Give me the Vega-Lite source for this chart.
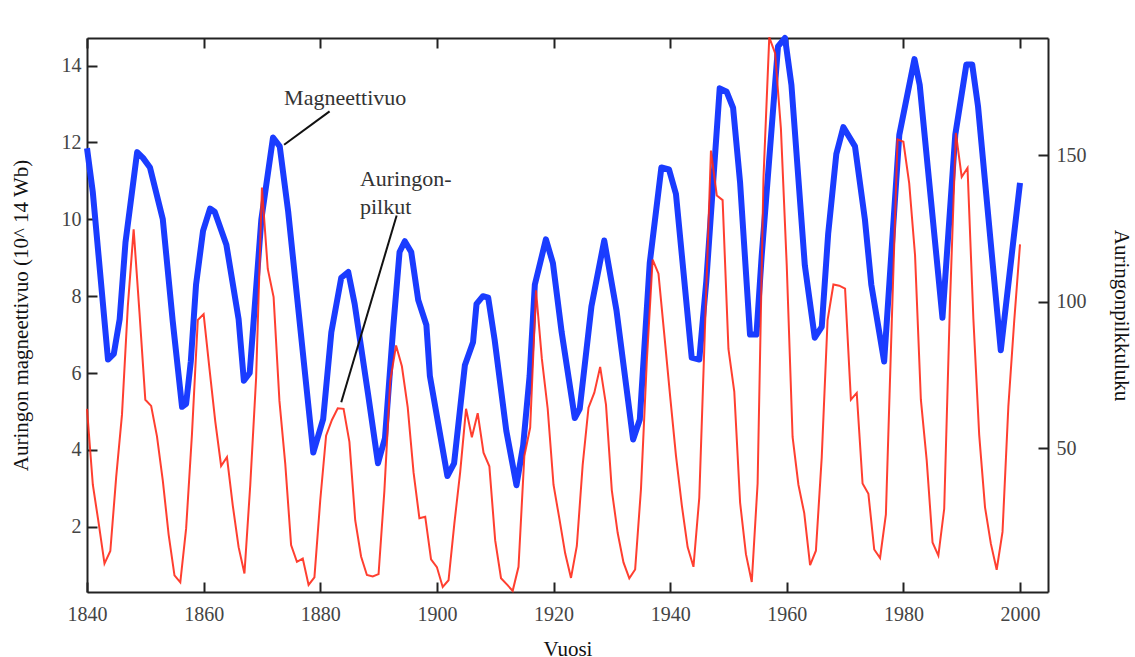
{
  "$schema": "https://vega.github.io/schema/vega-lite/v6.json",
  "width": 961,
  "height": 554,
  "autosize": {"type": "none"},
  "padding": {"left": 87, "top": 38, "right": 87, "bottom": 65},
  "background": "white",
  "config": {
    "view": {"stroke": null},
    "font": "Liberation Serif",
    "axis": {
      "grid": false,
      "labelFlush": false,
      "domainColor": "#222",
      "domainWidth": 2,
      "tickColor": "#222",
      "tickWidth": 2,
      "labelFont": "Liberation Serif",
      "labelFontSize": 20,
      "labelColor": "#444",
      "titleFont": "Liberation Serif",
      "titleFontSize": 21,
      "titleFontWeight": "normal",
      "titleColor": "#111"
    }
  },
  "datasets": {
    "flux": [
      {"year": 1840, "flux": 11.85}, {"year": 1841, "flux": 10.7}, {"year": 1843.6, "flux": 6.35},
      {"year": 1844.6, "flux": 6.5}, {"year": 1845.6, "flux": 7.4}, {"year": 1846.6, "flux": 9.4},
      {"year": 1848.6, "flux": 11.75}, {"year": 1849.6, "flux": 11.6}, {"year": 1850.8, "flux": 11.35},
      {"year": 1853.0, "flux": 10.0}, {"year": 1854.7, "flux": 7.35}, {"year": 1856.3, "flux": 5.12},
      {"year": 1857.0, "flux": 5.2}, {"year": 1857.8, "flux": 6.3}, {"year": 1858.7, "flux": 8.3},
      {"year": 1859.9, "flux": 9.7}, {"year": 1861.1, "flux": 10.28}, {"year": 1861.9, "flux": 10.2},
      {"year": 1863.9, "flux": 9.34}, {"year": 1866.0, "flux": 7.4}, {"year": 1866.9, "flux": 5.8},
      {"year": 1867.9, "flux": 6.0}, {"year": 1869.9, "flux": 10.0}, {"year": 1871.9, "flux": 12.13},
      {"year": 1873.05, "flux": 11.9}, {"year": 1874.5, "flux": 10.2}, {"year": 1878.8, "flux": 3.93},
      {"year": 1880.5, "flux": 4.8}, {"year": 1881.9, "flux": 7.06}, {"year": 1883.6, "flux": 8.48},
      {"year": 1884.8, "flux": 8.63}, {"year": 1885.9, "flux": 7.8}, {"year": 1888.2, "flux": 5.45},
      {"year": 1889.9, "flux": 3.65}, {"year": 1891.1, "flux": 4.31}, {"year": 1892.5, "flux": 7.16},
      {"year": 1893.6, "flux": 9.15}, {"year": 1894.5, "flux": 9.43}, {"year": 1895.6, "flux": 9.15},
      {"year": 1896.8, "flux": 7.9}, {"year": 1898.2, "flux": 7.25}, {"year": 1898.8, "flux": 5.92},
      {"year": 1901.8, "flux": 3.32}, {"year": 1902.95, "flux": 3.65}, {"year": 1904.8, "flux": 6.2},
      {"year": 1906.2, "flux": 6.8}, {"year": 1906.8, "flux": 7.8}, {"year": 1907.9, "flux": 8.0},
      {"year": 1908.8, "flux": 7.96}, {"year": 1909.9, "flux": 6.87}, {"year": 1911.9, "flux": 4.5},
      {"year": 1913.65, "flux": 3.08}, {"year": 1914.8, "flux": 4.12}, {"year": 1915.9, "flux": 5.92},
      {"year": 1916.8, "flux": 8.3}, {"year": 1918.7, "flux": 9.48}, {"year": 1919.9, "flux": 8.86},
      {"year": 1921.4, "flux": 7.06}, {"year": 1923.65, "flux": 4.83}, {"year": 1924.5, "flux": 5.07},
      {"year": 1926.5, "flux": 7.73}, {"year": 1928.7, "flux": 9.45}, {"year": 1930.8, "flux": 7.63},
      {"year": 1933.65, "flux": 4.27}, {"year": 1934.8, "flux": 4.79}, {"year": 1936.5, "flux": 8.86},
      {"year": 1938.5, "flux": 11.35}, {"year": 1939.8, "flux": 11.3}, {"year": 1941.0, "flux": 10.66},
      {"year": 1943.7, "flux": 6.4}, {"year": 1945.0, "flux": 6.35}, {"year": 1946.2, "flux": 8.39},
      {"year": 1948.5, "flux": 13.41}, {"year": 1949.7, "flux": 13.32}, {"year": 1950.8, "flux": 12.9},
      {"year": 1952.0, "flux": 10.95}, {"year": 1953.7, "flux": 7.0}, {"year": 1954.8, "flux": 7.0},
      {"year": 1955.7, "flux": 9.05}, {"year": 1958.5, "flux": 14.5}, {"year": 1959.7, "flux": 14.72},
      {"year": 1960.8, "flux": 13.5}, {"year": 1963.1, "flux": 8.8}, {"year": 1964.8, "flux": 6.92},
      {"year": 1966.0, "flux": 7.2}, {"year": 1967.1, "flux": 9.62}, {"year": 1968.5, "flux": 11.7},
      {"year": 1969.7, "flux": 12.4}, {"year": 1971.7, "flux": 11.9}, {"year": 1973.4, "flux": 10.0},
      {"year": 1974.5, "flux": 8.3}, {"year": 1976.7, "flux": 6.3}, {"year": 1979.3, "flux": 12.2},
      {"year": 1981.9, "flux": 14.17}, {"year": 1982.8, "flux": 13.5}, {"year": 1986.7, "flux": 7.44},
      {"year": 1988.9, "flux": 12.2}, {"year": 1990.8, "flux": 14.03}, {"year": 1991.8, "flux": 14.03},
      {"year": 1992.8, "flux": 12.94}, {"year": 1996.7, "flux": 6.59}, {"year": 2000, "flux": 10.95}
    ],
    "spots": [
      {"year": 1840, "spots": 63.5}, {"year": 1841, "spots": 37.6}, {"year": 1842, "spots": 24.5}, {"year": 1843, "spots": 10.7},
      {"year": 1844, "spots": 15.0}, {"year": 1845, "spots": 40.1}, {"year": 1846, "spots": 61.5}, {"year": 1847, "spots": 98.5},
      {"year": 1848, "spots": 124.7}, {"year": 1849, "spots": 96.3}, {"year": 1850, "spots": 66.6}, {"year": 1851, "spots": 64.5},
      {"year": 1852, "spots": 54.1}, {"year": 1853, "spots": 39.0}, {"year": 1854, "spots": 20.6}, {"year": 1855, "spots": 6.7},
      {"year": 1856, "spots": 4.3}, {"year": 1857, "spots": 22.7}, {"year": 1858, "spots": 54.8}, {"year": 1859, "spots": 93.8},
      {"year": 1860, "spots": 95.8}, {"year": 1861, "spots": 77.2}, {"year": 1862, "spots": 59.1}, {"year": 1863, "spots": 44.0},
      {"year": 1864, "spots": 47.0}, {"year": 1865, "spots": 30.5}, {"year": 1866, "spots": 16.3}, {"year": 1867, "spots": 7.3},
      {"year": 1868, "spots": 37.6}, {"year": 1869, "spots": 74.0}, {"year": 1870, "spots": 139.0}, {"year": 1871, "spots": 111.2},
      {"year": 1872, "spots": 101.6}, {"year": 1873, "spots": 66.2}, {"year": 1874, "spots": 44.7}, {"year": 1875, "spots": 17.0},
      {"year": 1876, "spots": 11.3}, {"year": 1877, "spots": 12.4}, {"year": 1878, "spots": 3.4}, {"year": 1879, "spots": 6.0},
      {"year": 1880, "spots": 32.3}, {"year": 1881, "spots": 54.3}, {"year": 1882, "spots": 59.7}, {"year": 1883, "spots": 63.7},
      {"year": 1884, "spots": 63.5}, {"year": 1885, "spots": 52.2}, {"year": 1886, "spots": 25.4}, {"year": 1887, "spots": 13.1},
      {"year": 1888, "spots": 6.8}, {"year": 1889, "spots": 6.3}, {"year": 1890, "spots": 7.1}, {"year": 1891, "spots": 35.6},
      {"year": 1892, "spots": 73.0}, {"year": 1893, "spots": 85.1}, {"year": 1894, "spots": 78.0}, {"year": 1895, "spots": 64.0},
      {"year": 1896, "spots": 41.8}, {"year": 1897, "spots": 26.2}, {"year": 1898, "spots": 26.7}, {"year": 1899, "spots": 12.1},
      {"year": 1900, "spots": 9.5}, {"year": 1901, "spots": 2.7}, {"year": 1902, "spots": 5.0}, {"year": 1903, "spots": 24.4},
      {"year": 1904, "spots": 42.0}, {"year": 1905, "spots": 63.5}, {"year": 1906, "spots": 53.8}, {"year": 1907, "spots": 62.0},
      {"year": 1908, "spots": 48.5}, {"year": 1909, "spots": 43.9}, {"year": 1910, "spots": 18.6}, {"year": 1911, "spots": 5.7},
      {"year": 1912, "spots": 3.6}, {"year": 1913, "spots": 1.4}, {"year": 1914, "spots": 9.6}, {"year": 1915, "spots": 47.4},
      {"year": 1916, "spots": 57.1}, {"year": 1917, "spots": 103.9}, {"year": 1918, "spots": 80.6}, {"year": 1919, "spots": 63.6},
      {"year": 1920, "spots": 37.6}, {"year": 1921, "spots": 26.1}, {"year": 1922, "spots": 14.2}, {"year": 1923, "spots": 5.8},
      {"year": 1924, "spots": 16.7}, {"year": 1925, "spots": 44.3}, {"year": 1926, "spots": 63.9}, {"year": 1927, "spots": 69.0},
      {"year": 1928, "spots": 77.8}, {"year": 1929, "spots": 64.9}, {"year": 1930, "spots": 35.7}, {"year": 1931, "spots": 21.2},
      {"year": 1932, "spots": 11.1}, {"year": 1933, "spots": 5.7}, {"year": 1934, "spots": 8.7}, {"year": 1935, "spots": 36.1},
      {"year": 1936, "spots": 79.7}, {"year": 1937, "spots": 114.4}, {"year": 1938, "spots": 109.6}, {"year": 1939, "spots": 88.8},
      {"year": 1940, "spots": 67.8}, {"year": 1941, "spots": 47.5}, {"year": 1942, "spots": 30.6}, {"year": 1943, "spots": 16.3},
      {"year": 1944, "spots": 9.6}, {"year": 1945, "spots": 33.2}, {"year": 1946, "spots": 92.6}, {"year": 1947, "spots": 151.6},
      {"year": 1948, "spots": 136.3}, {"year": 1949, "spots": 134.7}, {"year": 1950, "spots": 83.9}, {"year": 1951, "spots": 69.4},
      {"year": 1952, "spots": 31.5}, {"year": 1953, "spots": 13.9}, {"year": 1954, "spots": 4.4}, {"year": 1955, "spots": 38.0},
      {"year": 1956, "spots": 141.7}, {"year": 1957, "spots": 190.2}, {"year": 1958, "spots": 184.8}, {"year": 1959, "spots": 159.0},
      {"year": 1960, "spots": 112.3}, {"year": 1961, "spots": 53.9}, {"year": 1962, "spots": 37.6}, {"year": 1963, "spots": 27.9},
      {"year": 1964, "spots": 10.2}, {"year": 1965, "spots": 15.1}, {"year": 1966, "spots": 47.0}, {"year": 1967, "spots": 93.8},
      {"year": 1968, "spots": 105.9}, {"year": 1969, "spots": 105.5}, {"year": 1970, "spots": 104.5}, {"year": 1971, "spots": 66.6},
      {"year": 1972, "spots": 68.9}, {"year": 1973, "spots": 38.0}, {"year": 1974, "spots": 34.5}, {"year": 1975, "spots": 15.5},
      {"year": 1976, "spots": 12.6}, {"year": 1977, "spots": 27.5}, {"year": 1978, "spots": 92.5}, {"year": 1979, "spots": 155.4},
      {"year": 1980, "spots": 154.6}, {"year": 1981, "spots": 140.4}, {"year": 1982, "spots": 115.9}, {"year": 1983, "spots": 66.6},
      {"year": 1984, "spots": 45.9}, {"year": 1985, "spots": 17.9}, {"year": 1986, "spots": 13.4}, {"year": 1987, "spots": 29.4},
      {"year": 1988, "spots": 100.2}, {"year": 1989, "spots": 157.6}, {"year": 1990, "spots": 142.6}, {"year": 1991, "spots": 145.7},
      {"year": 1992, "spots": 94.3}, {"year": 1993, "spots": 54.6}, {"year": 1994, "spots": 29.9}, {"year": 1995, "spots": 17.5},
      {"year": 1996, "spots": 8.6}, {"year": 1997, "spots": 21.5}, {"year": 1998, "spots": 64.3}, {"year": 1999, "spots": 93.3},
      {"year": 2000, "spots": 119.6}
    ],
    "labels": [
      {"x": 1873.8, "y": 13.17, "label": "Magneettivuo"},
      {"x": 1886.8, "y": 11.06, "label": "Auringon-"},
      {"x": 1886.8, "y": 10.33, "label": "pilkut"}
    ],
    "leaders": [
      {"x1": 1873.8, "x2": 1881.6, "y1": 11.94, "y2": 12.81},
      {"x1": 1893.1, "x2": 1883.6, "y1": 10.10, "y2": 5.24}
    ]
  },
  "layer": [
    {
      "data": {"name": "flux"},
      "mark": {"type": "line", "color": "#1a3cff", "strokeWidth": 6, "strokeJoin": "round", "strokeCap": "butt"},
      "encoding": {
        "x": {
          "field": "year", "type": "quantitative",
          "scale": {"domain": [1840, 2004.8], "nice": false, "zero": false},
          "axis": {
            "orient": "bottom", "values": [1840, 1860, 1880, 1900, 1920, 1940, 1960, 1980, 2000],
            "format": "d", "tickSize": -10, "labelPadding": 22, "title": "Vuosi", "titlePadding": 14
          }
        },
        "y": {
          "field": "flux", "type": "quantitative",
          "scale": {"domain": [0.3, 14.72], "nice": false, "zero": false},
          "axis": {
            "orient": "left", "values": [2, 4, 6, 8, 10, 12, 14],
            "tickSize": -10, "labelPadding": 16, "title": "Auringon magneettivuo (10^ 14 Wb)", "titlePadding": 30
          }
        }
      }
    },
    {
      "data": {"name": "leaders"},
      "mark": {"type": "rule", "color": "#111", "strokeWidth": 2},
      "encoding": {
        "x": {"field": "x1", "type": "quantitative", "scale": {"domain": [1840, 2004.8], "nice": false, "zero": false}, "axis": null},
        "x2": {"field": "x2"},
        "y": {"field": "y1", "type": "quantitative", "scale": {"domain": [0.3, 14.72], "nice": false, "zero": false}, "axis": null},
        "y2": {"field": "y2"}
      }
    },
    {
      "data": {"name": "labels"},
      "mark": {"type": "text", "align": "left", "baseline": "middle", "font": "Liberation Serif", "fontSize": 22, "color": "#333"},
      "encoding": {
        "x": {"field": "x", "type": "quantitative", "scale": {"domain": [1840, 2004.8], "nice": false, "zero": false}, "axis": null},
        "y": {"field": "y", "type": "quantitative", "scale": {"domain": [0.3, 14.72], "nice": false, "zero": false}, "axis": null},
        "text": {"field": "label"}
      }
    },
    {
      "data": {"name": "spots"},
      "mark": {"type": "line", "color": "#ff2a1a", "strokeWidth": 2, "opacity": 0.9},
      "encoding": {
        "x": {
          "field": "year", "type": "quantitative",
          "scale": {"domain": [1840, 2004.8], "nice": false, "zero": false},
          "axis": {"orient": "top", "values": [1840, 1860, 1880, 1900, 1920, 1940, 1960, 1980, 2000], "labels": false, "tickSize": -10, "title": null}
        },
        "y": {
          "field": "spots", "type": "quantitative",
          "scale": {"domain": [1, 190], "nice": false, "zero": false},
          "axis": {
            "orient": "right", "values": [50, 100, 150],
            "tickSize": -10, "labelPadding": 18, "title": "Auringonpilkkuluku", "titlePadding": 24
          }
        }
      }
    }
  ],
  "resolve": {"scale": {"y": "independent"}, "axis": {"x": "independent", "y": "independent"}}
}
